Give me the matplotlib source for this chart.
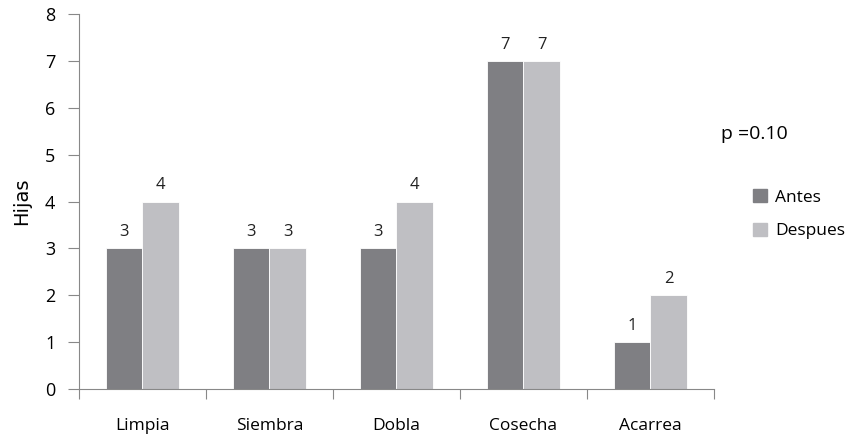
import numpy as np
import matplotlib.pyplot as plt
from matplotlib.patches import Patch

categories = ['Limpia', 'Siembra', 'Dobla', 'Cosecha', 'Acarrea']
antes = [3, 3, 3, 7, 1]
despues = [4, 3, 4, 7, 2]

plt.rcParams['font.family'] = 'Open Sans'

fig = plt.figure(figsize=(8.62, 4.42), dpi=100)
ax = fig.add_axes([0.0916, 0.12, 0.7366, 0.848])

x = np.arange(len(categories))
w = 0.285
dark = '#7f7f83'
light = '#bfbfc3'
b1 = ax.bar(x - w / 2, antes, w, color=dark, edgecolor='white', linewidth=0.6, label='Antes')
b2 = ax.bar(x + w / 2, despues, w, color=light, edgecolor='white', linewidth=0.6, label='Despues')
ax.bar_label(b1, padding=6, fontsize=12, color='#222222')
ax.bar_label(b2, padding=6, fontsize=12, color='#222222')

ax.set_xlim(-0.5, len(categories) - 0.5)
ax.set_ylim(0, 8)
ax.set_yticks(range(0, 9))
ax.set_xticks(np.arange(-0.5, len(categories)))
ax.set_xticklabels([])
ax.set_xticks(x, minor=True)
ax.set_xticklabels(categories, minor=True)
ax.tick_params(axis='x', which='minor', length=0, pad=21, labelsize=12.5)
ax.tick_params(axis='x', which='major', length=7, color='#888888')
ax.tick_params(axis='y', length=8, color='#888888', labelsize=13, pad=9)
ax.set_ylabel('Hijas', fontsize=14, family='Liberation Sans Narrow', labelpad=10)

for s in ['top', 'right']:
    ax.spines[s].set_visible(False)
for s in ['left', 'bottom']:
    ax.spines[s].set_color('#888888')

fig.text(0.837, 0.697, 'p =0.10', fontsize=14, va='center')
handles = [Patch(color=dark), Patch(color=light)]
fig.legend(handles, ['Antes', 'Despues'], loc='center left', bbox_to_anchor=(0.856, 0.515),
           frameon=False, fontsize=12.5, handlelength=0.75, handleheight=0.75, labelspacing=1.0,
           handletextpad=0.5)

fig.savefig('out.png', dpi=100)
